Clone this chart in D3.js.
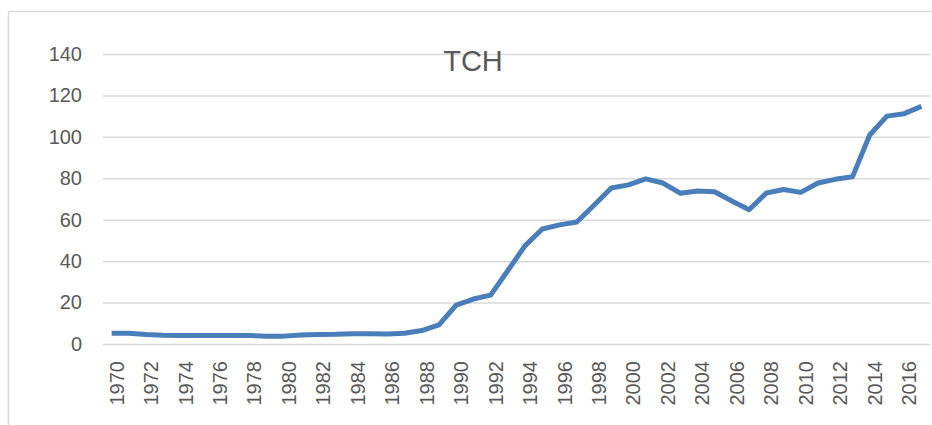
<!DOCTYPE html>
<html>
<head>
<meta charset="utf-8">
<script src="https://cdn.jsdelivr.net/npm/d3@7"></script>
<style>
  body { margin: 0; background: #fff; }
  svg { display: block; font-family: "Liberation Sans", Arial, sans-serif; }
</style>
</head>
<body>
<svg id="chart" width="932" height="425"></svg>
<script>
// years 1970..2017
let years = d3.range(1970, 2018);
let values = [
    5.2, 5.2, 4.6, 4.2, 4.1, 4.1, 4.1, 4.1, 4.1, 3.8,
    3.8, 4.3, 4.6, 4.7, 5.0, 5.0, 4.8, 5.2, 6.5, 9.2,
    18.8, 21.7, 23.6, 35.5, 47.5, 55.5, 57.5, 58.9, 67.0, 75.3,
    76.8, 79.7, 77.7, 72.8, 73.9, 73.5, 69.0, 64.8, 72.9, 74.6,
    73.2, 77.7, 79.5, 80.7, 100.9, 110.0, 111.2, 114.7
];
let yTicks = [0, 20, 40, 60, 80, 100, 120, 140];
let title = "TCH";

let svg = d3.select("#chart"),
    margin = {top: 54, right: 2, bottom: 81, left: 103},
    width = 932 - margin.left - margin.right,
    height = 425 - margin.top - margin.bottom;

// chart frame
svg.append("rect")
    .attr("x", 8.5).attr("y", 11.5)
    .attr("width", 960).attr("height", 440)
    .attr("fill", "none")
    .attr("stroke", "#d9d9d9")
    .attr("stroke-width", 1.5);

let g = svg.append("g").attr("transform", "translate(" + margin.left + "," + margin.top + ")");

let x = d3.scaleBand().domain(years).range([0, width]),
    y = d3.scaleLinear().domain([0, 140]).range([height, 0]);

// gridlines + y labels
let yAxis = g.append("g")
    .call(d3.axisLeft(y).tickValues(yTicks).tickSize(-width).tickPadding(21));
yAxis.select(".domain").remove();
yAxis.selectAll(".tick line").attr("stroke", "#d9d9d9").attr("stroke-width", 1.5);
yAxis.selectAll(".tick text")
    .attr("fill", "#595959")
    .style("font-size", "20px");

// x labels, every second year, rotated
let xAxis = g.append("g")
    .attr("transform", "translate(0," + height + ")")
    .call(d3.axisBottom(x).tickValues(years.filter(d => d % 2 === 0)).tickSize(0));
xAxis.select(".domain").remove();
xAxis.selectAll(".tick text")
    .attr("fill", "#595959")
    .style("font-size", "20px")
    .attr("text-anchor", "end")
    .attr("dy", null)
    .attr("transform", "translate(9,17) rotate(-90)");

let line = d3.line()
    .x((d, i) => x(years[i]) + x.bandwidth() / 2)
    .y(d => y(d));

g.append("path")
    .datum(values)
    .attr("d", line)
    .attr("fill", "none")
    .attr("stroke", "#4a7ebb")
    .attr("stroke-width", 5)
    .attr("stroke-linejoin", "round");

svg.append("text")
    .attr("x", 473)
    .attr("y", 71)
    .attr("text-anchor", "middle")
    .attr("fill", "#595959")
    .style("font-size", "29px")
    .text(title);
</script>
</body>
</html>
